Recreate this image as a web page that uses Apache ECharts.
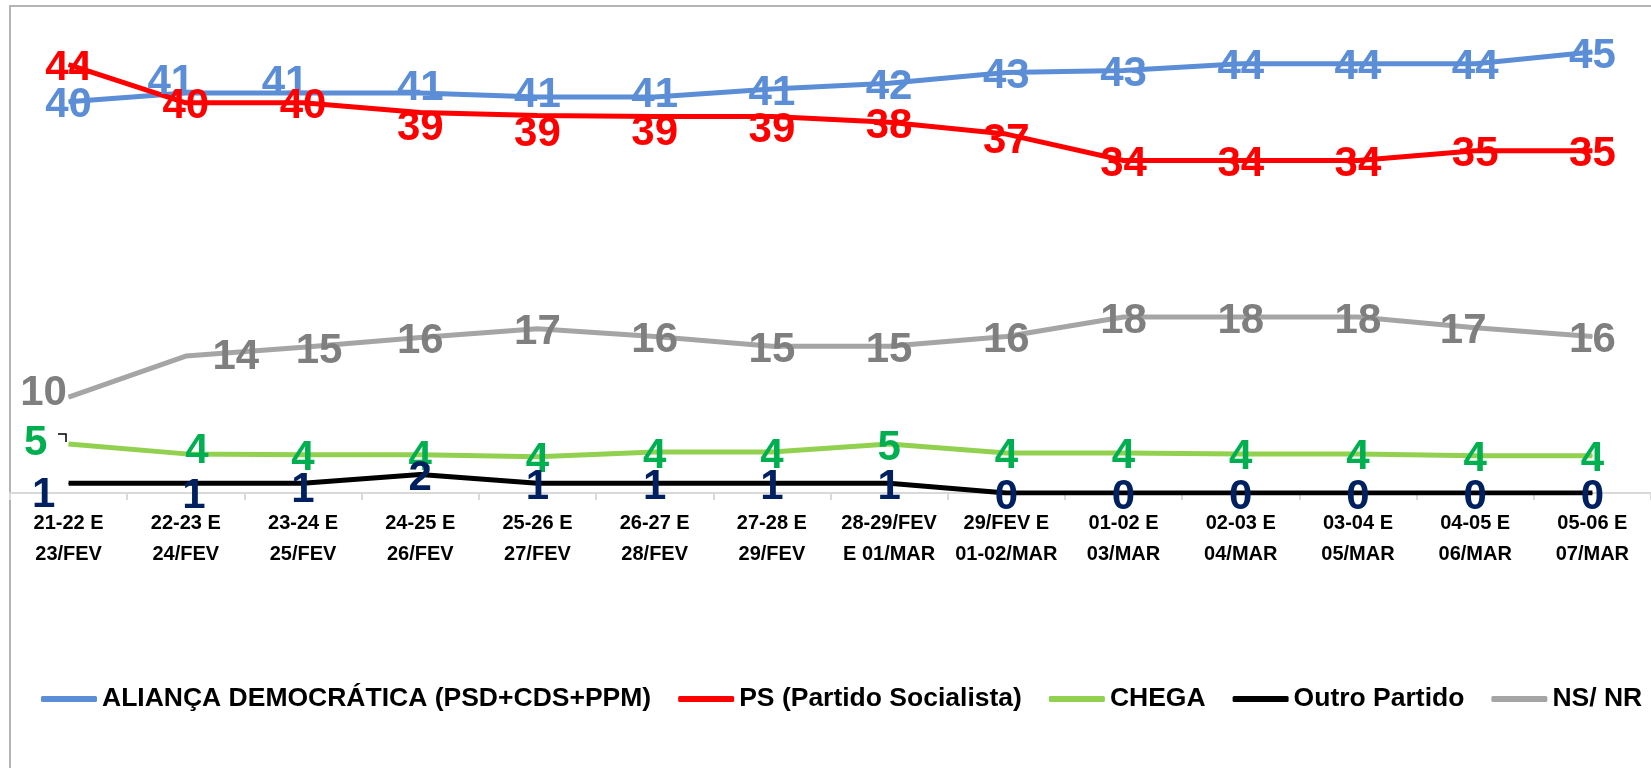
<!DOCTYPE html>
<html>
<head>
<meta charset="utf-8">
<script src="https://cdn.jsdelivr.net/npm/echarts@6/dist/echarts.min.js"></script>
<style>
  html, body { margin: 0; padding: 0; background: #fff; }
  #chart { width: 1651px; height: 768px; }
</style>
</head>
<body>
<div id="chart"></div>
<script>
// categorias (datas das sondagens)
var categorias = [
  '21-22 E\n23/FEV', '22-23 E\n24/FEV', '23-24 E\n25/FEV', '24-25 E\n26/FEV',
  '25-26 E\n27/FEV', '26-27 E\n28/FEV', '27-28 E\n29/FEV', '28-29/FEV\nE 01/MAR',
  '29/FEV E\n01-02/MAR', '01-02 E\n03/MAR', '02-03 E\n04/MAR', '03-04 E\n05/MAR',
  '04-05 E\n06/MAR', '05-06 E\n07/MAR'
]

// valores
var aliancaDemocratica = [40.0, 40.9, 40.9, 40.9, 40.5, 40.5, 41.3, 41.9, 43.0, 43.2, 43.9, 43.9, 43.9, 45.1]
var partidoSocialista = [43.8, 39.9, 39.9, 38.9, 38.6, 38.5, 38.5, 37.9, 36.7, 34.0, 34.0, 34.0, 35.0, 35.0]
var chega = [5.0, 4.0, 3.9, 3.9, 3.7, 4.2, 4.2, 5.0, 4.1, 4.1, 4.0, 4.0, 3.8, 3.8]
var outroPartido = [1.0, 1.0, 1.0, 1.9, 1.0, 1.0, 1.0, 1.0, 0, 0, 0, 0, 0, 0]
var nsNr = [9.8, 14.0, 14.9, 15.9, 16.8, 16.0, 15.0, 15.0, 16.0, 18.0, 18.0, 18.0, 16.9, 16.0]

var nomes = ['ALIANÇA DEMOCRÁTICA (PSD+CDS+PPM)', 'PS (Partido Socialista)', 'CHEGA', 'Outro Partido', 'NS/ NR']

var fonte = '"Liberation Sans", Arial, sans-serif'

// deslocamentos dos rótulos (índice: [dx, dy])
var ajustes = {
  0: { 1: [-15, -15], 2: [-18, -14], 3: [0, -9], 4: [0, -5], 5: [0, -5] },
  1: { 3: [0, 12], 4: [0, 15], 5: [0, 13], 6: [0, 10], 8: [0, 3] },
  2: { 0: [-33, -5], 1: [11, -6] },
  3: { 0: [-25, 8], 1: [8, 9], 2: [0, 3] },
  4: { 0: [-25, -8], 1: [50, -3], 2: [16, 0], 12: [-12, 0] }
}
var descida = 4 // todos os rótulos ficam um pouco abaixo do ponto

function montaDados(valores, idx) {
  var aj = ajustes[idx] || {}
  return valores.map(function (v, i) {
    var d = aj[i] || [0, 0]
    return { value: v, label: { offset: [d[0], d[1] + descida] } }
  })
}

function serie(nome, valores, idx, corLinha, corTexto) {
  return {
    name: nome,
    type: 'line',
    data: montaDados(valores, idx),
    symbol: 'circle',
    symbolSize: 1,
    itemStyle: { color: corLinha },
    lineStyle: { color: corLinha, width: 5 },
    label: {
      show: true,
      position: 'inside',
      color: corTexto,
      fontFamily: fonte,
      fontWeight: 'bold',
      fontSize: 42,
      formatter: function (p) { return Math.round(p.value) }
    },
    emphasis: { disabled: true },
    animation: false
  }
}

var chart = echarts.init(document.getElementById('chart'))

chart.setOption({
  backgroundColor: '#fff',
  animation: false,
  graphic: [{
    type: 'rect',
    shape: { x: 10, y: 6, width: 1800, height: 900 },
    style: { fill: 'none', stroke: '#B4B4B4', lineWidth: 2 },
    silent: true,
    z: -10
  }, {
    // pequena linha de chamada junto ao rótulo "5" do CHEGA
    type: 'polyline',
    shape: { points: [[58, 434], [66, 434], [66, 442]] },
    style: { stroke: '#000', lineWidth: 1.5, fill: 'none' },
    silent: true,
    z: 10
  }],
  grid: { left: 10, right: -17, top: 4, bottom: 275 },
  legend: {
    left: 36,
    top: 674,
    itemWidth: 56,
    itemHeight: 6,
    itemGap: 27,
    icon: 'roundRect',
    data: nomes,
    textStyle: { fontFamily: fonte, fontWeight: 'bold', fontSize: 26.5, color: '#000', lineHeight: 40 }
  },
  xAxis: {
    type: 'category',
    data: categorias,
    boundaryGap: true,
    axisLine: { lineStyle: { color: '#D9D9D9', width: 2 } },
    axisTick: { show: true, length: 7, lineStyle: { color: '#D9D9D9', width: 2 } },
    axisLabel: {
      interval: 0,
      margin: 15,
      color: '#000',
      fontFamily: fonte,
      fontWeight: 'bold',
      fontSize: 20,
      lineHeight: 31
    }
  },
  yAxis: {
    type: 'value',
    min: 0,
    max: 50,
    interval: 10,
    show: false,
    splitLine: { show: false }
  },
  series: [
    serie(nomes[0], aliancaDemocratica, 0, '#5B8ED6', '#5B8ED6'),
    serie(nomes[1], partidoSocialista, 1, '#FF0000', '#FF0000'),
    serie(nomes[2], chega, 2, '#92D050', '#00B050'),
    serie(nomes[3], outroPartido, 3, '#000000', '#002060'),
    serie(nomes[4], nsNr, 4, '#A5A5A5', '#7F7F7F')
  ]
})
</script>
</body>
</html>
